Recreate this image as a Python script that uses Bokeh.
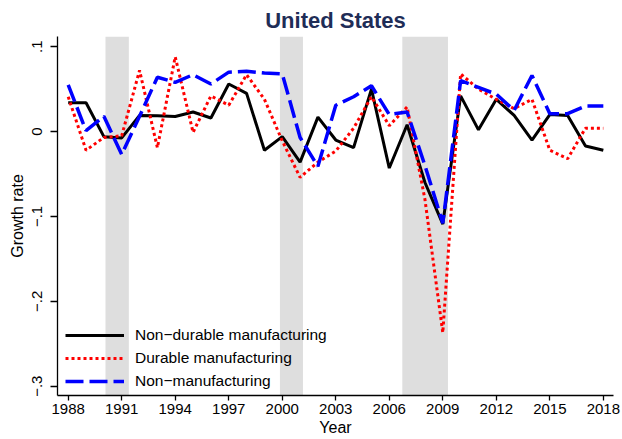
from bokeh.plotting import figure
from bokeh.models import Range1d, FixedTicker, BoxAnnotation, Legend, LegendItem
from bokeh.embed import file_html
from bokeh.resources import INLINE

years = list(range(1988, 2019))
nondurable = [0.034, 0.034, -0.006, -0.0075, 0.019, 0.0185, 0.0177, 0.023, 0.016, 0.056,
              0.045, -0.022, -0.006, -0.036, 0.017, -0.010, -0.019, 0.050, -0.043, 0.008,
              -0.060, -0.109, 0.042, 0.002, 0.038, 0.019, -0.010, 0.020, 0.019, -0.017, -0.022]
durable = [0.041, -0.022, -0.007, -0.005, 0.072, -0.019, 0.088, -0.001, 0.042, 0.031,
           0.067, 0.038, -0.011, -0.054, -0.036, -0.023, 0.004, 0.041, 0.007, 0.029,
           -0.080, -0.237, 0.068, 0.050, 0.038, 0.027, 0.038, -0.022, -0.032, 0.004, 0.004]
nonmanuf = [0.055, 0.001, 0.018, -0.027, 0.018, 0.064, 0.058, 0.067, 0.056, 0.070,
            0.071, 0.069, 0.068, -0.007, -0.041, 0.031, 0.041, 0.054, 0.020, 0.023,
            -0.040, -0.108, 0.060, 0.052, 0.044, 0.025, 0.066, 0.021, 0.021, 0.030, 0.030]
series_labels = ["Non\u2212durable manufacturing", "Durable manufacturing", "Non\u2212manufacturing"]

rec_start = [1990.09, 1999.87, 2006.73]
rec_end = [1991.40, 2001.16, 2009.29]

x_ticks = [1988, 1991, 1994, 1997, 2000, 2003, 2006, 2009, 2012, 2015, 2018]
y_ticks = [-0.3, -0.2, -0.1, 0.0, 0.1]
y_tick_labels = ["\u2212.3", "\u2212.2", "\u2212.1", "0", ".1"]

FONT = "Liberation Sans"

p = figure(width=622, height=439, output_backend="svg", toolbar_location=None,
           x_range=Range1d(1987.4, 2018.57), y_range=Range1d(-0.311, 0.112),
           min_border_left=57, min_border_right=9, min_border_top=36, min_border_bottom=44)
p.outline_line_color = None
p.xgrid.visible = False
p.ygrid.visible = False
p.background_fill_color = "white"

p.title.text = "United States"
p.title.align = "center"
p.title.text_font = FONT
p.title.text_font_size = "22px"
p.title.text_font_style = "bold"
p.title.text_color = "#1f2d57"
p.title.standoff = 7

for s, e in zip(rec_start, rec_end):
    p.add_layout(BoxAnnotation(left=s, right=e, fill_color="#dedede", fill_alpha=1.0,
                               line_alpha=0, level="underlay"))

r1 = p.line(years, nondurable, line_color="black", line_width=3)
r2 = p.line(years, durable, line_color="#ff0000", line_width=3, line_dash="3 3")
r3 = p.line(years, nonmanuf, line_color="#0000ff", line_width=3.5, line_dash="18 6")

xa = p.xaxis[0]
xa.ticker = FixedTicker(ticks=x_ticks)
xa.axis_label = "Year"
ya = p.yaxis[0]
ya.ticker = FixedTicker(ticks=y_ticks)
ya.major_label_overrides = {v: t for v, t in zip(y_ticks, y_tick_labels)}
ya.major_label_orientation = "vertical"
ya.axis_label = "Growth rate"

for ax in (xa, ya):
    ax.minor_tick_line_color = None
    ax.major_tick_in = 0
    ax.axis_line_color = "black"
    ax.axis_line_width = 1.3
    ax.major_tick_line_color = "black"
    ax.major_tick_line_width = 1.3
    ax.major_label_text_font = FONT
    ax.major_label_text_font_size = "15px"
    ax.major_label_text_color = "black"
    ax.axis_label_text_font = FONT
    ax.axis_label_text_font_size = "16px"
    ax.axis_label_text_font_style = "normal"
    ax.axis_label_text_color = "black"

xa.major_tick_out = 5
xa.major_label_standoff = 3
xa.axis_label_standoff = 2
ya.major_tick_out = 7
ya.major_label_standoff = 8
ya.axis_label_standoff = 4

legend = Legend(items=[LegendItem(label=series_labels[0], renderers=[r1]),
                       LegendItem(label=series_labels[1], renderers=[r2]),
                       LegendItem(label=series_labels[2], renderers=[r3])],
                location=(8, 4), padding=0, margin=0, spacing=3,
                glyph_width=59, glyph_height=20, label_height=20, label_standoff=11,
                background_fill_alpha=0, border_line_alpha=0,
                label_text_font=FONT, label_text_font_size="15.5px", label_text_color="black")
p.add_layout(legend, "center")

open("out.html", "w").write(file_html(p, INLINE))
